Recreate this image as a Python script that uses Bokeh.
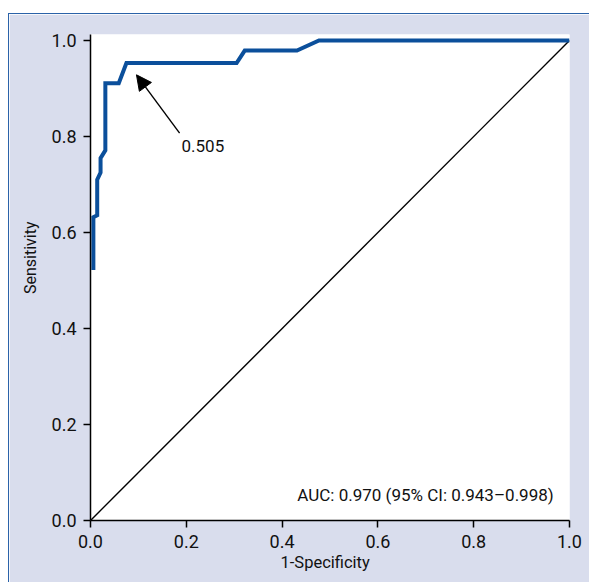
from bokeh.plotting import figure
from bokeh.models import FixedTicker, Arrow, NormalHead, Label, Title, ColumnDataSource, Range1d
from bokeh.embed import file_html
from bokeh.resources import INLINE

# ROC curve
fpr = [0.006, 0.006, 0.014, 0.014, 0.021, 0.021, 0.031, 0.031, 0.059, 0.075,
       0.305, 0.322, 0.431, 0.477, 1.0]
tpr = [0.522, 0.632, 0.636, 0.710, 0.725, 0.755, 0.771, 0.911, 0.911, 0.953,
       0.953, 0.979, 0.979, 1.0, 1.0]

# reference (chance) line
ref_x = [0.0, 1.0]
ref_y = [0.0, 1.0]

ticks = [0.0, 0.2, 0.4, 0.6, 0.8, 1.0]
tick_labels = ["0.0", "0.2", "0.4", "0.6", "0.8", "1.0"]

cutoff_label = "0.505"
arrow_tip = [0.096, 0.9285]
arrow_tail = [0.186, 0.807]
cutoff_text_xy = [0.19, 0.78]

auc_text = "AUC: 0.970 (95% CI: 0.943\u20130.998)"
auc_xy = [0.967, 0.053]

x_label = "1-Specificity"
y_label = "Sensitivity"

FONT = "Roboto"
BG = "#d9dded"
BORDER = "#2b62a8"
CURVE = "#0b4f9b"
INK = "#111111"

p = figure(width=581, height=569, output_backend="svg", toolbar_location=None,
           x_range=Range1d(0, 1), y_range=Range1d(0, 1.0125),
           min_border_left=81, min_border_top=20, min_border_right=21, min_border_bottom=63,
           styles={"margin-top": "13px", "margin-left": "8px",
                   "border-top": f"1px solid {BORDER}",
                   "border-left": f"1px solid {BORDER}"})
p.background_fill_color = "white"
p.border_fill_color = BG
p.outline_line_color = None
p.grid.visible = False

p.line(ref_x, ref_y, line_color="black", line_width=1.4)
src = ColumnDataSource(dict(x=fpr, y=tpr))
p.line("x", "y", source=src, line_color=CURVE, line_width=4, line_join="miter")

p.add_layout(Arrow(end=NormalHead(size=15, fill_color="black", line_color="black"),
                   x_start=arrow_tail[0], y_start=arrow_tail[1],
                   x_end=arrow_tip[0], y_end=arrow_tip[1],
                   line_color="black", line_width=1.4))
p.add_layout(Label(x=cutoff_text_xy[0], y=cutoff_text_xy[1], text=cutoff_label,
                   text_font=FONT, text_font_size="17px", text_baseline="middle",
                   text_align="left", text_color=INK))
p.add_layout(Label(x=auc_xy[0], y=auc_xy[1], text=auc_text,
                   text_font=FONT, text_font_size="17px", text_baseline="middle",
                   text_align="right", text_color=INK))

for ax in (p.xaxis[0], p.yaxis[0]):
    ax.ticker = FixedTicker(ticks=ticks)
    ax.major_label_overrides = {t: l for t, l in zip(ticks, tick_labels)}
    ax.minor_tick_line_color = None
    ax.major_tick_out = 7
    ax.major_tick_in = 0
    ax.major_tick_line_width = 1.5
    ax.axis_line_width = 1.5
    ax.axis_line_color = "black"
    ax.major_tick_line_color = "black"
    ax.major_label_text_font = FONT
    ax.major_label_text_font_size = "18px"
    ax.major_label_text_color = INK
    ax.major_label_standoff = 7

p.add_layout(Title(text=x_label, align="left", offset=190, text_font=FONT,
                   text_font_size="16.5px", text_font_style="normal",
                   text_color=INK, standoff=0), "below")

p.add_layout(Title(text=y_label, align="right", offset=187, text_font=FONT,
                   text_font_size="16px", text_font_style="normal",
                   text_color=INK, standoff=18), "left")

open("out.html", "w").write(file_html(p, INLINE))
